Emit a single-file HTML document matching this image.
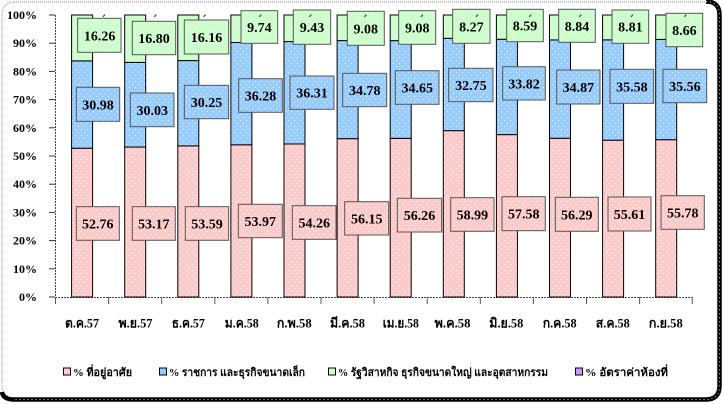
<!DOCTYPE html>
<html>
<head>
<meta charset="utf-8">
<style>
  html,body{margin:0;padding:0;background:#fff;}
  svg{display:block;}
  .yl{font-family:"Liberation Serif",serif;font-weight:bold;font-size:12px;fill:#000;}
  .dl{font-family:"Liberation Serif",serif;font-weight:bold;font-size:14px;fill:#000;}
  .xl{font-family:"Liberation Serif","DejaVu Serif",serif;font-weight:bold;font-size:13px;fill:#000;}
  .lg{font-family:"Liberation Serif","DejaVu Serif",serif;font-weight:bold;font-size:11px;fill:#000;}
</style>
</head>
<body>
<svg width="723" height="404" viewBox="0 0 723 404" xmlns="http://www.w3.org/2000/svg">
  <defs>
    <pattern id="pk" width="6" height="6" patternUnits="userSpaceOnUse">
      <rect width="6" height="6" fill="#FFCACA"/>
      <rect x="0" y="0" width="1" height="1" fill="#fff"/>
      <rect x="3" y="3" width="1" height="1" fill="#fff"/>
    </pattern>
    <pattern id="bl" width="6" height="6" patternUnits="userSpaceOnUse">
      <rect width="6" height="6" fill="#99CCFF"/>
      <rect x="0" y="0" width="1" height="1" fill="#e6f2ff"/>
      <rect x="3" y="3" width="1" height="1" fill="#e6f2ff"/>
    </pattern>
    <pattern id="gr" width="6" height="6" patternUnits="userSpaceOnUse">
      <rect width="6" height="6" fill="#CCFFCC"/>
      <rect x="0" y="0" width="1" height="1" fill="#fff"/>
      <rect x="3" y="3" width="1" height="1" fill="#fff"/>
    </pattern>
    <pattern id="pu" width="6" height="6" patternUnits="userSpaceOnUse">
      <rect width="6" height="6" fill="#CC99FF"/>
      <rect x="0" y="0" width="1" height="1" fill="#eee"/>
      <rect x="3" y="3" width="1" height="1" fill="#eee"/>
    </pattern>
  </defs>

  <!-- frame -->
  <rect x="2" y="2" width="716" height="396" rx="12" ry="12" fill="#fff" stroke="#888" stroke-width="1" stroke-dasharray="1,1"/>
  <path d="M706 1.5 Q719.5 1.5 719.5 15 L719.5 386 Q719.5 399.5 706 399.5 L14 399.5 Q3 399.5 2 392" fill="none" stroke="#000" stroke-width="4.5"/>
  <path d="M706 1.5 Q719.5 1.5 719.5 15 L719.5 386 Q719.5 399.5 706 399.5 L14 399.5" fill="none" stroke="#fff" stroke-width="1" stroke-dasharray="1,3" opacity="0.8"/>

  <!-- y axis labels -->
  <g class="yl" text-anchor="end">
    <text x="37" y="19">100%</text>
    <text x="37" y="47.2">90%</text>
    <text x="37" y="75.4">80%</text>
    <text x="37" y="103.6">70%</text>
    <text x="37" y="131.8">60%</text>
    <text x="37" y="160">50%</text>
    <text x="37" y="188.2">40%</text>
    <text x="37" y="216.4">30%</text>
    <text x="37" y="244.6">20%</text>
    <text x="37" y="272.8">10%</text>
    <text x="37" y="301">0%</text>
  </g>
  <!-- y ticks & axis -->
  <g stroke="#333" stroke-width="1">
    <line x1="49" y1="15" x2="55" y2="15"/>
    <line x1="49" y1="43.2" x2="55" y2="43.2"/>
    <line x1="49" y1="71.4" x2="55" y2="71.4"/>
    <line x1="49" y1="99.6" x2="55" y2="99.6"/>
    <line x1="49" y1="127.8" x2="55" y2="127.8"/>
    <line x1="49" y1="156" x2="55" y2="156"/>
    <line x1="49" y1="184.2" x2="55" y2="184.2"/>
    <line x1="49" y1="212.4" x2="55" y2="212.4"/>
    <line x1="49" y1="240.6" x2="55" y2="240.6"/>
    <line x1="49" y1="268.8" x2="55" y2="268.8"/>
    <line x1="49" y1="297" x2="55" y2="297"/>
  </g>
  <line x1="55.5" y1="15" x2="55.5" y2="297" stroke="#444" stroke-width="1" stroke-dasharray="2,1"/>
  <line x1="55" y1="297.5" x2="692.2" y2="297.5" stroke="#444" stroke-width="1" stroke-dasharray="2,1"/>
  <g stroke="#555" stroke-width="1">
    <line x1="55.5" y1="297" x2="55.5" y2="304"/>
    <line x1="108.6" y1="297" x2="108.6" y2="304"/>
    <line x1="161.7" y1="297" x2="161.7" y2="304"/>
    <line x1="214.8" y1="297" x2="214.8" y2="304"/>
    <line x1="267.9" y1="297" x2="267.9" y2="304"/>
    <line x1="321" y1="297" x2="321" y2="304"/>
    <line x1="374.1" y1="297" x2="374.1" y2="304"/>
    <line x1="427.2" y1="297" x2="427.2" y2="304"/>
    <line x1="480.3" y1="297" x2="480.3" y2="304"/>
    <line x1="533.4" y1="297" x2="533.4" y2="304"/>
    <line x1="586.5" y1="297" x2="586.5" y2="304"/>
    <line x1="639.6" y1="297" x2="639.6" y2="304"/>
    <line x1="692.2" y1="297" x2="692.2" y2="304"/>
  </g>

  <!-- bars -->
  <g stroke="#000" stroke-width="1">
    <rect x="71.6" y="148.22" width="21" height="148.78" fill="url(#pk)"/>
    <rect x="71.6" y="60.85" width="21" height="87.37" fill="url(#bl)"/>
    <rect x="71.6" y="15" width="21" height="45.85" fill="url(#gr)"/>

    <rect x="124.7" y="147.06" width="21" height="149.94" fill="url(#pk)"/>
    <rect x="124.7" y="62.38" width="21" height="84.68" fill="url(#bl)"/>
    <rect x="124.7" y="15" width="21" height="47.38" fill="url(#gr)"/>

    <rect x="177.8" y="145.88" width="21" height="151.12" fill="url(#pk)"/>
    <rect x="177.8" y="60.57" width="21" height="85.31" fill="url(#bl)"/>
    <rect x="177.8" y="15" width="21" height="45.57" fill="url(#gr)"/>

    <rect x="230.9" y="144.8" width="21" height="152.2" fill="url(#pk)"/>
    <rect x="230.9" y="42.49" width="21" height="102.31" fill="url(#bl)"/>
    <rect x="230.9" y="15" width="21" height="27.49" fill="url(#gr)"/>

    <rect x="284" y="143.99" width="21" height="153.01" fill="url(#pk)"/>
    <rect x="284" y="41.59" width="21" height="102.4" fill="url(#bl)"/>
    <rect x="284" y="15" width="21" height="26.59" fill="url(#gr)"/>

    <rect x="337.1" y="138.66" width="21" height="158.34" fill="url(#pk)"/>
    <rect x="337.1" y="40.58" width="21" height="98.08" fill="url(#bl)"/>
    <rect x="337.1" y="15" width="21" height="25.58" fill="url(#gr)"/>

    <rect x="390.2" y="138.35" width="21" height="158.65" fill="url(#pk)"/>
    <rect x="390.2" y="40.63" width="21" height="97.72" fill="url(#bl)"/>
    <rect x="390.2" y="15" width="21" height="25.63" fill="url(#gr)"/>

    <rect x="443.3" y="130.65" width="21" height="166.35" fill="url(#pk)"/>
    <rect x="443.3" y="38.29" width="21" height="92.36" fill="url(#bl)"/>
    <rect x="443.3" y="15" width="21" height="23.29" fill="url(#gr)"/>

    <rect x="496.4" y="134.62" width="21" height="162.38" fill="url(#pk)"/>
    <rect x="496.4" y="39.25" width="21" height="95.37" fill="url(#bl)"/>
    <rect x="496.4" y="15" width="21" height="24.25" fill="url(#gr)"/>

    <rect x="549.5" y="138.26" width="21" height="158.74" fill="url(#pk)"/>
    <rect x="549.5" y="39.93" width="21" height="98.33" fill="url(#bl)"/>
    <rect x="549.5" y="15" width="21" height="24.93" fill="url(#gr)"/>

    <rect x="602.6" y="140.18" width="21" height="156.82" fill="url(#pk)"/>
    <rect x="602.6" y="39.84" width="21" height="100.34" fill="url(#bl)"/>
    <rect x="602.6" y="15" width="21" height="24.84" fill="url(#gr)"/>

    <rect x="655.7" y="139.7" width="21" height="157.3" fill="url(#pk)"/>
    <rect x="655.7" y="39.42" width="21" height="100.28" fill="url(#bl)"/>
    <rect x="655.7" y="15" width="21" height="24.42" fill="url(#gr)"/>
  </g>

  <!-- data label boxes -->
  <g stroke="#555" stroke-width="1">
    <rect x="77.7" y="18.3" width="43.3" height="34" fill="url(#gr)"/>
    <rect x="132.3" y="21.3" width="43.4" height="33.4" fill="url(#gr)"/>
    <rect x="184.3" y="20" width="44.4" height="34" fill="url(#gr)"/>
    <rect x="241" y="10.7" width="36.7" height="32.6" fill="url(#gr)"/>
    <rect x="293.3" y="10" width="37.4" height="34.3" fill="url(#gr)"/>
    <rect x="347.3" y="11.3" width="37" height="34" fill="url(#gr)"/>
    <rect x="398.7" y="10.7" width="37" height="33.6" fill="url(#gr)"/>
    <rect x="452.7" y="9.3" width="37.3" height="34" fill="url(#gr)"/>
    <rect x="506.7" y="9.3" width="36.6" height="32.4" fill="url(#gr)"/>
    <rect x="558.7" y="9.3" width="36.6" height="33" fill="url(#gr)"/>
    <rect x="612" y="10" width="36.7" height="33.3" fill="url(#gr)"/>
    <rect x="666" y="13.3" width="36.7" height="33.4" fill="url(#gr)"/>

    <rect x="76.3" y="87.3" width="43.4" height="34" fill="url(#bl)"/>
    <rect x="130.3" y="93" width="43.7" height="33.7" fill="url(#bl)"/>
    <rect x="184.3" y="85.3" width="44.4" height="33.4" fill="url(#bl)"/>
    <rect x="238.7" y="78.7" width="43.6" height="33.6" fill="url(#bl)"/>
    <rect x="290" y="76" width="44" height="33.3" fill="url(#bl)"/>
    <rect x="342.7" y="73.3" width="44" height="33.4" fill="url(#bl)"/>
    <rect x="395.3" y="70.7" width="43.7" height="33.6" fill="url(#bl)"/>
    <rect x="448.7" y="68.3" width="44.3" height="33.4" fill="url(#bl)"/>
    <rect x="502.7" y="66.7" width="42.6" height="33.3" fill="url(#bl)"/>
    <rect x="556.7" y="70" width="43.3" height="34" fill="url(#bl)"/>
    <rect x="610" y="69.3" width="43.7" height="34" fill="url(#bl)"/>
    <rect x="663" y="69.3" width="43.7" height="33.4" fill="url(#bl)"/>

    <rect x="76.3" y="206.7" width="43" height="33.6" fill="url(#pk)"/>
    <rect x="132.3" y="206.7" width="43" height="33.6" fill="url(#pk)"/>
    <rect x="185.3" y="206.7" width="43.4" height="33.6" fill="url(#pk)"/>
    <rect x="238.3" y="204.3" width="44" height="33.4" fill="url(#pk)"/>
    <rect x="292.3" y="205.7" width="43.7" height="33.6" fill="url(#pk)"/>
    <rect x="344.7" y="201.7" width="44" height="33.3" fill="url(#pk)"/>
    <rect x="397.3" y="198.3" width="44.4" height="33.7" fill="url(#pk)"/>
    <rect x="450.7" y="197.7" width="43.3" height="33.6" fill="url(#pk)"/>
    <rect x="502" y="196.7" width="43.3" height="34" fill="url(#pk)"/>
    <rect x="555.3" y="197.3" width="43" height="34" fill="url(#pk)"/>
    <rect x="608" y="197" width="43" height="34" fill="url(#pk)"/>
    <rect x="661" y="195.7" width="43.3" height="33.6" fill="url(#pk)"/>
  </g>

  <!-- small leader marks -->
  <g stroke="#007000" stroke-width="1.2">
    <line x1="103" y1="16.8" x2="105" y2="14.6"/>
    <line x1="154.3" y1="16.8" x2="156.3" y2="14.6"/>
    <line x1="203.6" y1="16.8" x2="205.6" y2="14.6"/>
    <line x1="259.3" y1="16.8" x2="261.3" y2="14.6"/>
    <line x1="309.3" y1="16.8" x2="311.3" y2="14.6"/>
    <line x1="364.3" y1="16.8" x2="366.3" y2="14.6"/>
    <line x1="421" y1="16.8" x2="423" y2="14.6"/>
    <line x1="476" y1="16.8" x2="478" y2="14.6"/>
    <line x1="529.3" y1="16.8" x2="531.3" y2="14.6"/>
    <line x1="579.3" y1="16.8" x2="581.3" y2="14.6"/>
    <line x1="631" y1="16.8" x2="633" y2="14.6"/>
    <line x1="684.3" y1="16.8" x2="686.3" y2="14.6"/>
  </g>

  <!-- data label text -->
  <g class="dl" text-anchor="middle">
    <text x="99.6" y="40.3">16.26</text>
    <text x="154" y="43">16.80</text>
    <text x="206.5" y="42">16.16</text>
    <text x="259.4" y="32">9.74</text>
    <text x="312" y="32.2">9.43</text>
    <text x="365.8" y="33.3">9.08</text>
    <text x="417.2" y="32.5">9.08</text>
    <text x="471.4" y="31.3">8.27</text>
    <text x="525" y="30.5">8.59</text>
    <text x="577" y="30.8">8.84</text>
    <text x="630.4" y="31.7">8.81</text>
    <text x="684.4" y="35">8.66</text>

    <text x="98" y="109.3">30.98</text>
    <text x="152.2" y="114.9">30.03</text>
    <text x="206.5" y="107">30.25</text>
    <text x="260.5" y="100.5">36.28</text>
    <text x="312" y="97.7">36.31</text>
    <text x="364.7" y="95">34.78</text>
    <text x="417.2" y="92.5">34.65</text>
    <text x="470.9" y="90">32.75</text>
    <text x="524" y="88.3">33.82</text>
    <text x="578.4" y="92">34.87</text>
    <text x="631.9" y="91.3">35.58</text>
    <text x="684.9" y="91">35.56</text>

    <text x="97.8" y="228.5">52.76</text>
    <text x="153.8" y="228.5">53.17</text>
    <text x="207" y="228.5">53.59</text>
    <text x="260.3" y="226">53.97</text>
    <text x="314.2" y="227.5">54.26</text>
    <text x="366.7" y="223.3">56.15</text>
    <text x="419.5" y="220.2">56.26</text>
    <text x="472.4" y="219.5">58.99</text>
    <text x="523.7" y="218.7">57.58</text>
    <text x="576.8" y="219.3">56.29</text>
    <text x="629.5" y="219">55.61</text>
    <text x="682.7" y="217.5">55.78</text>
  </g>

  <!-- x labels -->
  <g class="xl" text-anchor="middle">
    <text x="82" y="327.5" textLength="34" lengthAdjust="spacingAndGlyphs">ต.ค.57</text>
    <text x="135.5" y="327.5" textLength="34" lengthAdjust="spacingAndGlyphs">พ.ย.57</text>
    <text x="188.3" y="327.5" textLength="33" lengthAdjust="spacingAndGlyphs">ธ.ค.57</text>
    <text x="241.8" y="327.5" textLength="34" lengthAdjust="spacingAndGlyphs">ม.ค.58</text>
    <text x="294.2" y="327.5" textLength="35" lengthAdjust="spacingAndGlyphs">ก.พ.58</text>
    <text x="347.5" y="327.5" textLength="35" lengthAdjust="spacingAndGlyphs">มี.ค.58</text>
    <text x="400.8" y="327.5" textLength="36" lengthAdjust="spacingAndGlyphs">เม.ย.58</text>
    <text x="452.5" y="327.5" textLength="36" lengthAdjust="spacingAndGlyphs">พ.ค.58</text>
    <text x="506.3" y="327.5" textLength="34" lengthAdjust="spacingAndGlyphs">มิ.ย.58</text>
    <text x="559.7" y="327.5" textLength="34" lengthAdjust="spacingAndGlyphs">ก.ค.58</text>
    <text x="612.8" y="327.5" textLength="34" lengthAdjust="spacingAndGlyphs">ส.ค.58</text>
    <text x="665.8" y="327.5" textLength="34" lengthAdjust="spacingAndGlyphs">ก.ย.58</text>
  </g>

  <!-- legend -->
  <g stroke="#000" stroke-width="1">
    <rect x="63.5" y="368" width="7" height="7" fill="#FFCACA"/>
    <rect x="159.5" y="368" width="7" height="7" fill="#99CCFF"/>
    <rect x="328.5" y="368" width="7" height="7" fill="#CCFFCC"/>
    <rect x="575.5" y="368" width="7" height="7" fill="#CC99FF"/>
  </g>
  <g class="lg">
    <text x="73" y="376" textLength="59" lengthAdjust="spacingAndGlyphs">% ที่อยู่อาศัย</text>
    <text x="169" y="376" textLength="136" lengthAdjust="spacingAndGlyphs">% ราชการ และธุรกิจขนาดเล็ก</text>
    <text x="338" y="376" textLength="210" lengthAdjust="spacingAndGlyphs">% รัฐวิสาหกิจ ธุรกิจขนาดใหญ่ และอุตสาหกรรม</text>
    <text x="585" y="376" textLength="83" lengthAdjust="spacingAndGlyphs">% อัตราค่าห้องที่</text>
  </g>
</svg>
</body>
</html>
